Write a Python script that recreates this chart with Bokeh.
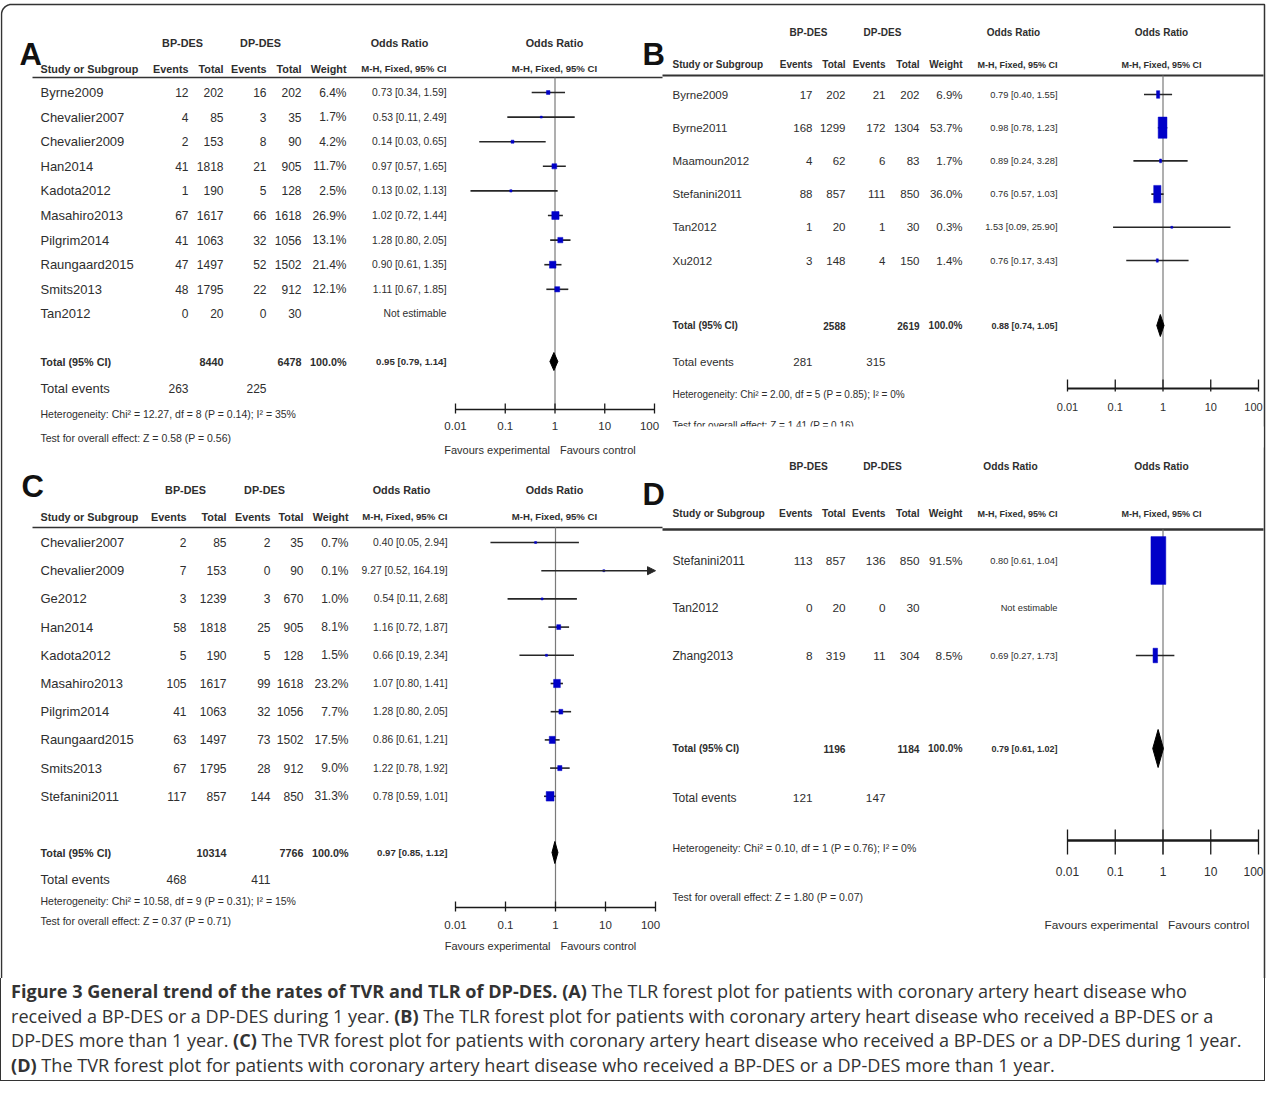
import math
from bokeh.plotting import figure
from bokeh.models import Range1d, LogScale, ColumnDataSource, Div, Arrow, NormalHead
from bokeh.layouts import column
from bokeh.core.properties import value
from bokeh.embed import file_html
from bokeh.resources import INLINE

# ---------------- data ----------------
A_study = ["Byrne2009", "Chevalier2007", "Chevalier2009", "Han2014", "Kadota2012",
           "Masahiro2013", "Pilgrim2014", "Raungaard2015", "Smits2013", "Tan2012"]
A_ev1 = [12, 4, 2, 41, 1, 67, 41, 47, 48, 0]
A_tot1 = [202, 85, 153, 1818, 190, 1617, 1063, 1497, 1795, 20]
A_ev2 = [16, 3, 8, 21, 5, 66, 32, 52, 22, 0]
A_tot2 = [202, 35, 90, 905, 128, 1618, 1056, 1502, 912, 30]
A_weight = [6.4, 1.7, 4.2, 11.7, 2.5, 26.9, 13.1, 21.4, 12.1, None]
A_or = [0.73, 0.53, 0.14, 0.97, 0.13, 1.02, 1.28, 0.90, 1.11, None]
A_lo = [0.34, 0.11, 0.03, 0.57, 0.02, 0.72, 0.80, 0.61, 0.67, None]
A_hi = [1.59, 2.49, 0.65, 1.65, 1.13, 1.44, 2.05, 1.35, 1.85, None]
A_total = [8440, 6478, 0.95, 0.79, 1.14]
A_events = [263, 225]
A_het = "Heterogeneity: Chi\u00b2 = 12.27, df = 8 (P = 0.14); I\u00b2 = 35%"
A_test = "Test for overall effect: Z = 0.58 (P = 0.56)"

B_study = ["Byrne2009", "Byrne2011", "Maamoun2012", "Stefanini2011", "Tan2012", "Xu2012"]
B_ev1 = [17, 168, 4, 88, 1, 3]
B_tot1 = [202, 1299, 62, 857, 20, 148]
B_ev2 = [21, 172, 6, 111, 1, 4]
B_tot2 = [202, 1304, 83, 850, 30, 150]
B_weight = [6.9, 53.7, 1.7, 36.0, 0.3, 1.4]
B_or = [0.79, 0.98, 0.89, 0.76, 1.53, 0.76]
B_lo = [0.40, 0.78, 0.24, 0.57, 0.09, 0.17]
B_hi = [1.55, 1.23, 3.28, 1.03, 25.90, 3.43]
B_total = [2588, 2619, 0.88, 0.74, 1.05]
B_events = [281, 315]
B_het = "Heterogeneity: Chi\u00b2 = 2.00, df = 5 (P = 0.85); I\u00b2 = 0%"
B_test = "Test for overall effect: Z = 1.41 (P = 0.16)"

C_study = ["Chevalier2007", "Chevalier2009", "Ge2012", "Han2014", "Kadota2012",
           "Masahiro2013", "Pilgrim2014", "Raungaard2015", "Smits2013", "Stefanini2011"]
C_ev1 = [2, 7, 3, 58, 5, 105, 41, 63, 67, 117]
C_tot1 = [85, 153, 1239, 1818, 190, 1617, 1063, 1497, 1795, 857]
C_ev2 = [2, 0, 3, 25, 5, 99, 32, 73, 28, 144]
C_tot2 = [35, 90, 670, 905, 128, 1618, 1056, 1502, 912, 850]
C_weight = [0.7, 0.1, 1.0, 8.1, 1.5, 23.2, 7.7, 17.5, 9.0, 31.3]
C_or = [0.40, 9.27, 0.54, 1.16, 0.66, 1.07, 1.28, 0.86, 1.22, 0.78]
C_lo = [0.05, 0.52, 0.11, 0.72, 0.19, 0.80, 0.80, 0.61, 0.78, 0.59]
C_hi = [2.94, 164.19, 2.68, 1.87, 2.34, 1.41, 2.05, 1.21, 1.92, 1.01]
C_total = [10314, 7766, 0.97, 0.85, 1.12]
C_events = [468, 411]
C_het = "Heterogeneity: Chi\u00b2 = 10.58, df = 9 (P = 0.31); I\u00b2 = 15%"
C_test = "Test for overall effect: Z = 0.37 (P = 0.71)"

D_study = ["Stefanini2011", "Tan2012", "Zhang2013"]
D_ev1 = [113, 0, 8]
D_tot1 = [857, 20, 319]
D_ev2 = [136, 0, 11]
D_tot2 = [850, 30, 304]
D_weight = [91.5, None, 8.5]
D_or = [0.80, None, 0.69]
D_lo = [0.61, None, 0.27]
D_hi = [1.04, None, 1.73]
D_total = [1196, 1184, 0.79, 0.61, 1.02]
D_events = [121, 147]
D_het = "Heterogeneity: Chi\u00b2 = 0.10, df = 1 (P = 0.76); I\u00b2 = 0%"
D_test = "Test for overall effect: Z = 1.80 (P = 0.07)"

TICKS = [0.01, 0.1, 1, 10, 100]
TICK_LABELS = ["0.01", "0.1", "1", "10", "100"]

CAPTION = [
    [("Figure 3 General trend of the rates of TVR and TLR of DP-DES. (A)", True),
     (" The TLR forest plot for patients with coronary artery heart disease who", False)],
    [("received a BP-DES or a DP-DES during 1 year. ", False), ("(B)", True),
     (" The TLR forest plot for patients with coronary artery heart disease who received a BP-DES or a", False)],
    [("DP-DES more than 1 year. ", False), ("(C)", True),
     (" The TVR forest plot for patients with coronary artery heart disease who received a BP-DES or a DP-DES during 1 year.", False)],
    [("(D)", True),
     (" The TVR forest plot for patients with coronary artery heart disease who received a BP-DES or a DP-DES more than 1 year.", False)],
]

# ---------------- layout ----------------
FONT = "Liberation Sans"
INK = "#2e2e2e"
BLUE = "#0000c8"

W, H = 1271, 978
X0, Y0 = 8, 8

SMALL = dict(name=13, num=12, ci=10.3, hdr=10.8, mh=9.6, small=10.5, tick=11.5, fav=11)
NARR = dict(name=11.5, num=11.5, ci=9.3, hdr=10, mh=9.0, small=10, tick=11, fav=11.5)
BIG = dict(name=12, num=11.8, ci=9.3, hdr=10.2, mh=9.0, small=10.5, tick=12, fav=11.8)

LAY = {
    "A": dict(letter=(27, 62), name=48, ev1=196, tot1=231, ev2=274, tot2=309, wt=354, ci=454,
              bp=190, dp=268, orc=407, forc=562, f0=463, f1=662,
              h1=50, h2=76, ul=85, ulx=(40, 670), row0=100, step=24.6, tot=369, tev=396,
              het=421, test=445, axis=417, tl=433, fav=457, vbot=417, tick=(-6, 4),
              axw=1.5, ulw=1.3, fs=SMALL, mw=1.4, mh=1.5, dh=9),
    "B": dict(letter=(650, 62), name=680, ev1=820, tot1=853, ev2=893, tot2=927, wt=970, ci=1065,
              bp=816, dp=890, orc=1021, forc=1169, f0=1075, f1=1266,
              h1=40, h2=72, ul=83, ulx=(670, 1271), row0=102, step=33.2, tot=333, tev=369,
              het=402, test=433, axis=396, tl=414, fav=None, vbot=396, tick=(-9, 3),
              axw=2.0, ulw=1.8, fs=NARR, mw=1.2, mh=2.9, dh=11),
    "C": dict(letter=(29, 494), name=48, ev1=194, tot1=234, ev2=278, tot2=311, wt=356, ci=455,
              bp=193, dp=272, orc=409, forc=562, f0=463, f1=663,
              h1=497, h2=524, ul=535, ulx=(40, 670), row0=550, step=28.2, tot=860, tev=887,
              het=908, test=928, axis=915, tl=932, fav=953, vbot=915, tick=(-6, 4),
              axw=1.5, ulw=1.3, fs=SMALL, mw=1.4, mh=1.7, dh=11),
    "D": dict(letter=(650, 502), name=680, ev1=820, tot1=853, ev2=893, tot2=927, wt=970, ci=1065,
              bp=816, dp=890, orc=1018, forc=1169, f0=1075, f1=1266,
              h1=474, h2=521, ul=537, ulx=(670, 1271), row0=568, step=47.5, tot=756, tev=805,
              het=855, test=904, axis=848, tl=879, fav=932, vbot=862, tick=(-11, 14),
              axw=2.5, ulw=2.5, fs=BIG, mw=1.55, mh=5.0, dh=19),
}
# small nudge of the outermost tick label so it stays inside the frame
TICK_NUDGE = [0, 0, 0, 0, -5]

p = figure(width=W, height=H, x_range=Range1d(X0, X0 + W), y_range=Range1d(Y0 + H, Y0),
           x_axis_location=None, y_axis_location=None, output_backend="svg",
           toolbar_location=None, min_border=0, outline_line_color=None)
p.grid.visible = False
p.background_fill_color = "white"


def put(xs, ys, texts, size, align="left", bold=False, font=FONT, color=INK,
        baseline="middle", rng=None, xoff=0):
    xo = list(xoff) if isinstance(xoff, (list, tuple)) else [xoff] * len(texts)
    src = ColumnDataSource(dict(x=list(xs), y=list(ys), t=list(texts), xo=xo))
    kw = {"x_range_name": rng} if rng else {}
    p.text(x="x", y="y", text="t", source=src, text_font=value(font),
           text_font_size=value(f"{size}px"), text_font_style="bold" if bold else "normal",
           text_align=align, text_baseline=baseline, text_color=color, x_offset="xo", **kw)


# outer frame (upper part; the caption box continues it)
arc_t = [i * (math.pi / 2) / 12 for i in range(13)]
fx = [9, 9] + [19 - 10 * math.cos(t) for t in arc_t] + [1272, 1272]
fy = [Y0 + H, 22] + [22 - 10 * math.sin(t) for t in arc_t] + [12, Y0 + H]
p.line(fx, fy, line_color="#333333", line_width=1.5)


def panel(key, L, study, ev1, tot1, ev2, tot2, weight, orv, lo, hi, total, events, het, test):
    F = L["fs"]
    n = len(study)
    ys = [L["row0"] + i * L["step"] for i in range(n)]
    # log scale for this panel's forest plot
    dpx = (L["f1"] - L["f0"]) / 4.0
    start = 10 ** (-2 + (X0 - L["f0"]) / dpx)
    end = 10 ** (-2 + (X0 + W - L["f0"]) / dpx)
    p.extra_x_ranges[key] = Range1d(start, end)
    p.extra_x_scales[key] = LogScale()

    # panel letter
    put([L["letter"][0]], [L["letter"][1]], [key], 31, bold=True,
        color="#111111", baseline="alphabetic")
    # header
    put([L["bp"], L["dp"], L["orc"], L["forc"]], [L["h1"]] * 4,
        ["BP-DES", "DP-DES", "Odds Ratio", "Odds Ratio"], F["hdr"], align="center", bold=True)
    put([L["name"]], [L["h2"]], ["Study or Subgroup"], F["hdr"], bold=True)
    put([L["ev1"], L["tot1"], L["ev2"], L["tot2"], L["wt"]], [L["h2"]] * 5,
        ["Events", "Total", "Events", "Total", "Weight"], F["hdr"], align="right", bold=True)
    put([L["ci"]], [L["h2"]], ["M-H, Fixed, 95% CI"], F["mh"], align="right", bold=True)
    put([L["forc"]], [L["h2"]], ["M-H, Fixed, 95% CI"], F["mh"], align="center", bold=True)
    p.segment(x0=[L["ulx"][0]], x1=[L["ulx"][1]], y0=[L["ul"]], y1=[L["ul"]],
              line_color="#333333", line_width=L["ulw"])

    # study rows
    wtxt = ["" if w is None else f"{w:.1f}%" for w in weight]
    citxt = ["Not estimable" if o is None else f"{o:.2f} [{a:.2f}, {b:.2f}]"
             for o, a, b in zip(orv, lo, hi)]
    put([L["name"]] * n, ys, study, F["name"])
    for col, vals in (("ev1", ev1), ("tot1", tot1), ("ev2", ev2), ("tot2", tot2)):
        put([L[col]] * n, ys, [str(v) for v in vals], F["num"], align="right")
    put([L["wt"]] * n, ys, wtxt, F["num"], align="right")
    put([L["ci"]] * n, ys, citxt, F["ci"], align="right")

    # total rows
    put([L["name"]], [L["tot"]], ["Total (95% CI)"], F["hdr"], bold=True)
    put([L["tot1"], L["tot2"], L["wt"]], [L["tot"]] * 3,
        [str(total[0]), str(total[1]), "100.0%"], F["hdr"], align="right", bold=True)
    put([L["ci"]], [L["tot"]], [f"{total[2]:.2f} [{total[3]:.2f}, {total[4]:.2f}]"],
        F["mh"], align="right", bold=True)
    put([L["name"]], [L["tev"]], ["Total events"], F["name"])
    put([L["ev1"], L["ev2"]], [L["tev"]] * 2, [str(events[0]), str(events[1])], F["num"], align="right")
    put([L["name"], L["name"]], [L["het"], L["test"]], [het, test], F["small"])

    # forest plot
    p.segment(x0=[1], x1=[1], y0=[L["ul"]], y1=[L["vbot"]], x_range_name=key,
              line_color="#7a7a7a", line_width=1.2)
    idx = [i for i in range(n) if orv[i] is not None]
    inside = [i for i in idx if hi[i] <= 100]
    beyond = [i for i in idx if hi[i] > 100]
    p.segment(x0=[lo[i] for i in inside], x1=[hi[i] for i in inside],
              y0=[ys[i] for i in inside], y1=[ys[i] for i in inside],
              x_range_name=key, line_color="#262626", line_width=1.6)
    if beyond:
        asrc = ColumnDataSource(dict(x0=[lo[i] for i in beyond], x1=[100] * len(beyond),
                                     y=[ys[i] for i in beyond]))
        p.add_layout(Arrow(end=NormalHead(size=8, fill_color="#262626", line_color="#262626"),
                           x_start="x0", x_end="x1", y_start="y", y_end="y", source=asrc,
                           line_color="#262626", line_width=1.6, x_range_name=key))
    msrc = ColumnDataSource(dict(
        x=[orv[i] for i in idx], y=[ys[i] for i in idx],
        w=[max(2.0, L["mw"] * math.sqrt(weight[i])) for i in idx],
        h=[max(2.0, L["mh"] * math.sqrt(weight[i])) for i in idx]))
    p.rect(x="x", y="y", width="w", height="h", width_units="screen", height_units="screen",
           source=msrc, x_range_name=key, fill_color=BLUE, line_color=BLUE, line_width=0.5)
    # pooled diamond
    yt = L["tot"]
    p.patches(xs=[[total[3], total[2], total[4], total[2]]],
              ys=[[yt, yt - L["dh"], yt, yt + L["dh"]]], x_range_name=key,
              fill_color="black", line_color="black")
    # axis
    ay = L["axis"]
    p.segment(x0=[TICKS[0]], x1=[TICKS[-1]], y0=[ay], y1=[ay], x_range_name=key,
              line_color="#1a1a1a", line_width=L["axw"])
    p.segment(x0=TICKS, x1=TICKS, y0=[ay + L["tick"][0]] * 5, y1=[ay + L["tick"][1]] * 5,
              x_range_name=key, line_color="#1a1a1a", line_width=1.3)
    put(TICKS, [L["tl"]] * 5, TICK_LABELS, F["tick"], align="center", rng=key, xoff=TICK_NUDGE)
    if L["fav"] is not None:
        put([1], [L["fav"]], ["Favours experimental"], F["fav"], align="right", rng=key, xoff=-5)
        put([1], [L["fav"]], ["Favours control"], F["fav"], align="left", rng=key, xoff=5)


panel("A", LAY["A"], A_study, A_ev1, A_tot1, A_ev2, A_tot2, A_weight, A_or, A_lo, A_hi,
      A_total, A_events, A_het, A_test)
panel("B", LAY["B"], B_study, B_ev1, B_tot1, B_ev2, B_tot2, B_weight, B_or, B_lo, B_hi,
      B_total, B_events, B_het, B_test)
# panel D's image overlaps the lower edge of panel B
p.quad(left=[668], right=[1271], top=[434], bottom=[455], fill_color="white", line_color=None)
panel("C", LAY["C"], C_study, C_ev1, C_tot1, C_ev2, C_tot2, C_weight, C_or, C_lo, C_hi,
      C_total, C_events, C_het, C_test)
panel("D", LAY["D"], D_study, D_ev1, D_tot1, D_ev2, D_tot2, D_weight, D_or, D_lo, D_hi,
      D_total, D_events, D_het, D_test)

# ---------------- caption ----------------
lines = []
for line in CAPTION:
    parts = []
    for txt, bold in line:
        parts.append(f"<b>{txt}</b>" if bold else txt)
    lines.append("".join(parts))
cap_html = ("<div style=\"font-family:'Open Sans',sans-serif;font-size:18.1px;line-height:24.5px;"
            "color:#333;white-space:nowrap;padding:1px 0 0 10px;\">" + "<br>".join(lines) + "</div>")
cap = Div(text=cap_html, width=1265, height=103, margin=0,
          styles={"border-left": "1.5px solid #333", "border-right": "1.5px solid #333",
                  "border-bottom": "1.5px solid #333", "box-sizing": "border-box",
                  "background": "white"})

layout = column(p, cap, spacing=0)
open("out.html", "w").write(file_html(layout, INLINE))
